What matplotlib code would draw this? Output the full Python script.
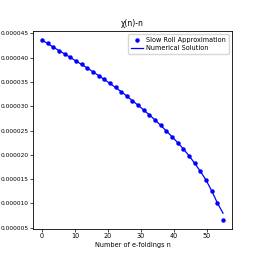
import numpy as np
import matplotlib
matplotlib.use("Agg")
import matplotlib.pyplot as plt
from matplotlib.ticker import FormatStrFormatter, MultipleLocator

# e-folding number for the sampled points
n_vals = np.linspace(0, 55, 33)

# slow roll approximation (x 1e-6)
chi_slow_roll = [43.6, 42.9, 42.15, 41.45, 40.75, 40.05, 39.3, 38.6, 37.85, 37.1,
                 36.3, 35.5, 34.7, 33.85, 33.0, 32.1, 31.1, 30.2, 29.2, 28.2,
                 27.15, 26.05, 24.9, 23.7, 22.5, 21.2, 19.8, 18.25, 16.6, 14.8,
                 12.6, 10.1, 6.6]

# numerical solution (x 1e-6)
chi_numerical = [43.6, 42.9, 42.15, 41.45, 40.75, 40.05, 39.3, 38.6, 37.85, 37.1,
                 36.3, 35.5, 34.7, 33.85, 33.0, 32.1, 31.1, 30.2, 29.2, 28.2,
                 27.15, 26.05, 24.9, 23.7, 22.5, 21.2, 19.8, 18.25, 16.6, 14.8,
                 12.6, 10.1, 8.0]

plt.rcParams["font.family"] = ["Liberation Sans Narrow", "DejaVu Sans"]
fs = 4.7

fig = plt.figure(figsize=(2.59, 2.59), dpi=100)
ax = fig.add_axes([0.127, 0.116, 0.769, 0.764])

ax.plot(n_vals, np.array(chi_slow_roll) * 1e-6, "o", color="blue", ms=2.2,
        label="Slow Roll Approximation")
ax.plot(n_vals, np.array(chi_numerical) * 1e-6, "-", color="blue", lw=0.9,
        label="Numerical Solution")

ax.set_title("χ(n)-n", fontsize=fs + 0.8, pad=4)
ax.set_xlabel("Number of e-foldings n", fontsize=fs, labelpad=2)
ax.xaxis.set_major_locator(MultipleLocator(10))
ax.yaxis.set_major_locator(MultipleLocator(5e-6))
ax.yaxis.set_major_formatter(FormatStrFormatter("%.6f"))
ax.tick_params(labelsize=fs, length=2, width=0.5, pad=1.2)
ax.tick_params(axis="y", labelsize=4.2, pad=1.0)
for s in ax.spines.values():
    s.set_linewidth(0.6)

ax.legend(loc="upper right", fontsize=fs, handlelength=1.8, borderpad=0.4,
          labelspacing=0.3, handletextpad=0.6, framealpha=0.8, fancybox=True)

plt.savefig("out.png", dpi=100)
plt.close()
